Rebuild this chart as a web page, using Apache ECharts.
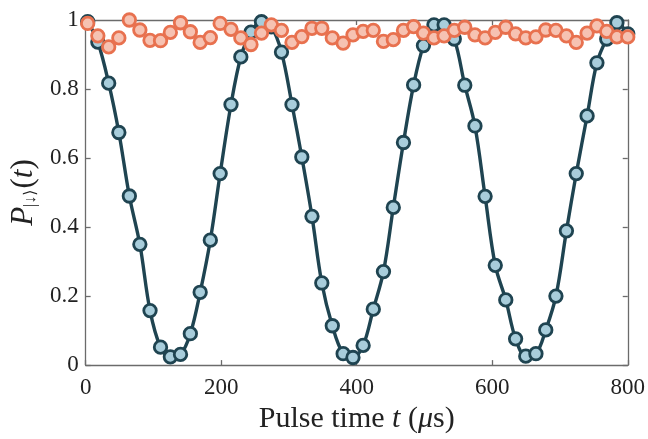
<!DOCTYPE html>
<html>
<head>
<meta charset="utf-8">
<script src="https://cdn.jsdelivr.net/npm/echarts@6/dist/echarts.min.js"></script>
<style>html,body{margin:0;background:#fff}#chart{width:648px;height:439px}</style>
</head>
<body>
<div id="chart"></div>
<script>
// pulse times (µs)
const pulseTimes = [3, 18, 34, 49, 64.5, 80, 95, 110.5, 125, 140, 154.5, 169, 184, 198.5, 214.5,
  229, 244, 259.5, 274, 289, 304.5, 319, 334, 348.5, 364, 380, 394.5, 409.5, 424.5, 439.5,
  454, 469, 484, 498.5, 514, 529, 544, 559.5, 574.5, 589.5, 604.5, 620, 634.5, 649.5, 664.5,
  679, 694, 709.5, 724, 740, 754.5, 769, 784, 800];

// Rabi oscillation (blue markers + dark line)
const rabiValues = [0.995, 0.936, 0.817, 0.674, 0.49, 0.35, 0.158, 0.052, 0.024, 0.031,
  0.091, 0.211, 0.362, 0.555, 0.755, 0.893, 0.965, 0.995, 0.98, 0.907,
  0.755, 0.603, 0.431, 0.238, 0.114, 0.033, 0.022, 0.057, 0.162, 0.271,
  0.457, 0.645, 0.812, 0.926, 0.986, 0.986, 0.945, 0.811, 0.693, 0.489,
  0.289, 0.189, 0.076, 0.026, 0.033, 0.102, 0.2, 0.389, 0.555, 0.722,
  0.876, 0.945, 0.992, 0.96];

// reference (orange markers)
const refValues = [0.99, 0.954, 0.922, 0.948, 1.0, 0.971, 0.941, 0.94, 0.964, 0.992,
  0.966, 0.935, 0.949, 0.99, 0.973, 0.948, 0.929, 0.962, 0.986, 0.97,
  0.935, 0.952, 0.976, 0.976, 0.948, 0.933, 0.957, 0.967, 0.97, 0.938,
  0.943, 0.97, 0.981, 0.962, 0.948, 0.954, 0.97, 0.979, 0.957, 0.948,
  0.964, 0.979, 0.96, 0.948, 0.951, 0.971, 0.97, 0.954, 0.935, 0.962,
  0.983, 0.967, 0.951, 0.951];

const xTicks = [0, 200, 400, 600, 800];
const yTicks = [0, 0.2, 0.4, 0.6, 0.8, 1];

const font = '"Liberation Serif", "DejaVu Serif", serif';
const axisGray = '#6b6b6b';
const dark = '#1f4451';

const pair = (xs, ys) => xs.map((x, i) => [x, ys[i]]);

const baseAxis = {
  axisLine: { show: true, onZero: false, lineStyle: { color: axisGray, width: 1.3 } },
  axisTick: { show: true, inside: true, length: 5, lineStyle: { color: axisGray, width: 1.3 } },
  splitLine: { show: false }
};

const option = {
  animation: false,
  backgroundColor: '#fff',
  grid: { left: 85, right: 18, top: 20, bottom: 69, containLabel: false },
  xAxis: [
    Object.assign({}, baseAxis, {
      type: 'value', position: 'bottom', min: xTicks[0], max: xTicks[xTicks.length - 1], interval: 200,
      axisLabel: { color: '#222', fontFamily: font, fontSize: 23, margin: 11 },
      name: '{n|Pulse time }{i|t}{n| (}{i|μ}{n|s)}',
      nameLocation: 'middle', nameGap: 26,
      nameTextStyle: {
        rich: {
          n: { fontFamily: font, fontSize: 30, color: '#222' },
          i: { fontFamily: font, fontSize: 30, color: '#222', fontStyle: 'italic' }
        }
      }
    }),
    Object.assign({}, baseAxis, {
      type: 'value', position: 'top', min: 0, max: 800, interval: 200,
      axisLabel: { show: false }
    })
  ],
  yAxis: [
    Object.assign({}, baseAxis, {
      type: 'value', position: 'left', min: yTicks[0], max: yTicks[yTicks.length - 1], interval: 0.2,
      axisLabel: { color: '#222', fontFamily: font, fontSize: 23, margin: 7 },
      name: '{i|P}{s||↓⟩}{n|(}{i|t}{n|)}',
      nameLocation: 'middle', nameGap: 44, nameRotate: 90,
      nameTextStyle: {
        rich: {
          n: { fontFamily: font, fontSize: 31, color: '#222' },
          i: { fontFamily: font, fontSize: 31, color: '#222', fontStyle: 'italic' },
          s: { fontFamily: font, fontSize: 16, color: '#222', verticalAlign: 'bottom', padding: [14, 1, 0, 0] }
        }
      }
    }),
    Object.assign({}, baseAxis, {
      type: 'value', position: 'right', min: 0, max: 1, interval: 0.2,
      axisLabel: { show: false }
    })
  ],
  series: [
    {
      type: 'line',
      data: pair(pulseTimes, rabiValues),
      smooth: 0.35,
      clip: false,
      lineStyle: { color: dark, width: 3.4 },
      symbol: 'circle',
      symbolSize: 12.5,
      itemStyle: { color: '#a8cddb', borderColor: dark, borderWidth: 2.8 },
      z: 2
    },
    {
      type: 'scatter',
      data: pair(pulseTimes, refValues),
      clip: false,
      symbol: 'circle',
      symbolSize: 12.5,
      itemStyle: { color: '#f6c2b2', borderColor: '#e8714f', borderWidth: 2.8, opacity: 1 },
      z: 3
    }
  ]
};

echarts.init(document.getElementById('chart')).setOption(option);
</script>
</body>
</html>
